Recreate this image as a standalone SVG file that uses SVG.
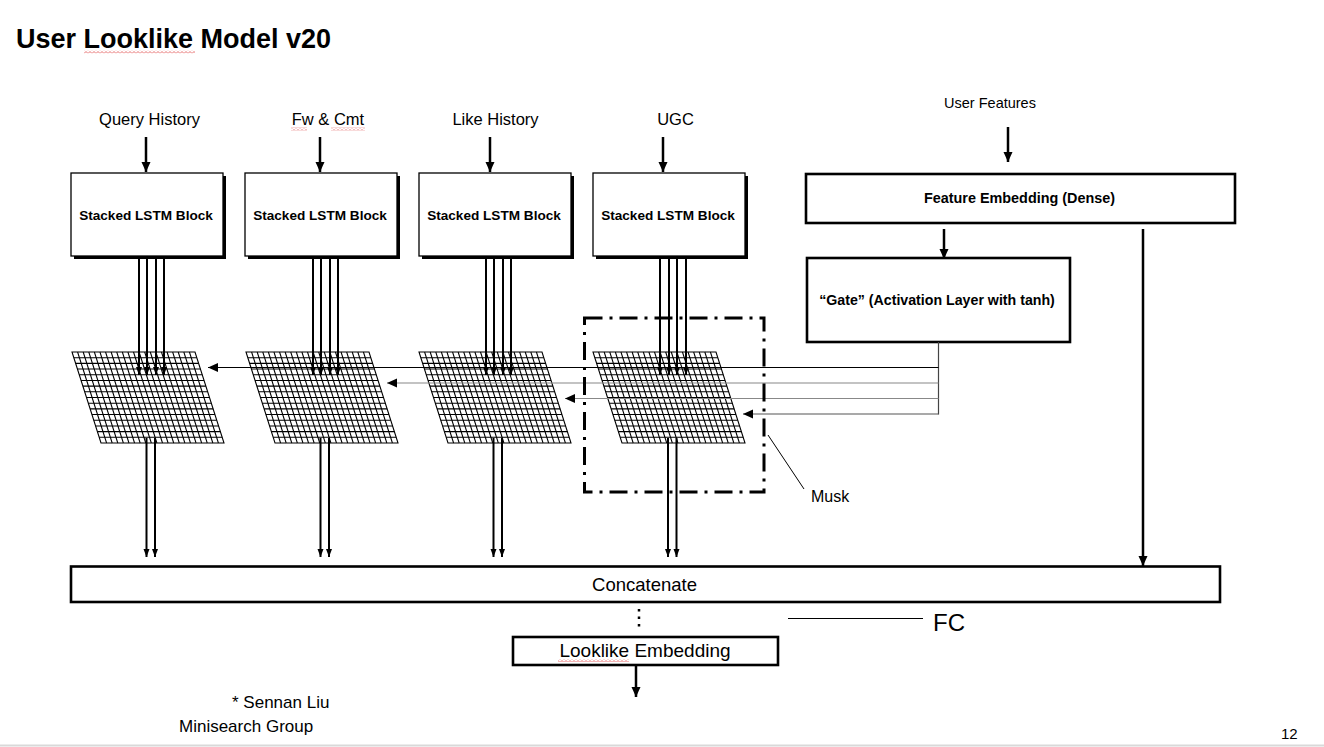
<svg xmlns="http://www.w3.org/2000/svg" width="1324" height="747" viewBox="0 0 1324 747">
<style>
text{font-family:"Liberation Sans",Arial,sans-serif;fill:#000}
.lbl{font-size:16.5px;text-anchor:middle}
.blk{font-size:13.6px;font-weight:bold;text-anchor:middle}
.box{fill:#fff;stroke:#000;stroke-width:1.3}
.tbox{fill:#fff;stroke:#000;stroke-width:2.6}
.thick{stroke:#000;stroke-width:2.5;fill:none}
.thin{stroke:#000;stroke-width:2;fill:none}
.hair{stroke:#000;stroke-width:1;fill:none}
.wave{fill:url(#wave)}
</style>
<defs>
<marker id="ah" markerUnits="userSpaceOnUse" markerWidth="10" markerHeight="10" refX="10" refY="5" orient="auto"><path d="M0,0.5 L10,5 L0,9.5 z" fill="#000"/></marker>
<marker id="as" markerUnits="userSpaceOnUse" markerWidth="8" markerHeight="7" refX="8" refY="3.5" orient="auto"><path d="M0,0.5 L8,3.5 L0,6.5 z" fill="#000"/></marker>
<pattern id="wave" patternUnits="userSpaceOnUse" width="4" height="3"><path d="M0,2.5 L2,0.5 L4,2.5" stroke="#e04848" stroke-width="0.8" fill="none"/></pattern>
<g id="grid">
<polygon points="0,0 123,0 152,91 29,91" fill="#fff" stroke="#000" stroke-width="1.1"/>
<path stroke="#000" stroke-width="1.05" fill="none" d="M1.81,5.69h123M3.63,11.38h123M5.44,17.06h123M7.25,22.75h123M9.06,28.44h123M10.88,34.13h123M12.69,39.81h123M14.5,45.5h123M16.31,51.19h123M18.13,56.88h123M19.94,62.56h123M21.75,68.25h123M23.56,73.94h123M25.38,79.63h123M27.19,85.31h123M5.59,0l29,91M11.18,0l29,91M16.77,0l29,91M22.36,0l29,91M27.95,0l29,91M33.55,0l29,91M39.14,0l29,91M44.73,0l29,91M50.32,0l29,91M55.91,0l29,91M61.5,0l29,91M67.09,0l29,91M72.68,0l29,91M78.27,0l29,91M83.86,0l29,91M89.45,0l29,91M95.05,0l29,91M100.64,0l29,91M106.23,0l29,91M111.82,0l29,91M117.41,0l29,91"/>
</g>
</defs>
<rect width="1324" height="747" fill="#fff"/>

<g id="title">
<text x="16" y="48" style="font-size:27px;font-weight:bold">User Looklike Model v20</text>
<rect class="wave" x="84" y="50.5" width="111" height="3"/>
</g>

<g id="input-labels">
<text class="lbl" x="149.5" y="125">Query History</text>
<text class="lbl" x="328" y="125">Fw &amp; Cmt</text>
<rect class="wave" x="291" y="127.5" width="16" height="3"/>
<rect class="wave" x="331" y="127.5" width="34" height="3"/>
<text class="lbl" x="495.5" y="125">Like History</text>
<text class="lbl" x="675.5" y="125">UGC</text>
<text x="990" y="108" style="font-size:14.5px;text-anchor:middle">User Features</text>
</g>

<g id="lstm1"><rect x="74" y="176" width="152" height="83" fill="#000"/><rect class="box" x="71" y="173" width="152" height="83"/><text class="blk" x="146" y="220">Stacked LSTM Block</text></g>
<g id="lstm2"><rect x="248" y="176" width="152" height="83" fill="#000"/><rect class="box" x="245" y="173" width="152" height="83"/><text class="blk" x="320" y="220">Stacked LSTM Block</text></g>
<g id="lstm3"><rect x="422" y="176" width="152" height="83" fill="#000"/><rect class="box" x="419" y="173" width="152" height="83"/><text class="blk" x="494" y="220">Stacked LSTM Block</text></g>
<g id="lstm4"><rect x="596" y="176" width="152" height="83" fill="#000"/><rect class="box" x="593" y="173" width="152" height="83"/><text class="blk" x="668" y="220">Stacked LSTM Block</text></g>

<g id="grid1"><use href="#grid" x="72" y="352"/></g>
<g id="grid2"><use href="#grid" x="246" y="352"/></g>
<g id="grid3"><use href="#grid" x="419" y="352"/></g>
<g id="grid4"><use href="#grid" x="593" y="352"/></g>

<g id="feature-embedding"><rect class="tbox" x="806" y="174" width="429" height="49"/><text x="1019.5" y="203" style="font-size:14.4px;font-weight:bold;text-anchor:middle">Feature Embedding (Dense)</text></g>
<g id="gate"><rect class="tbox" x="807" y="258" width="263" height="84"/><text x="937" y="305" style="font-size:14.2px;font-weight:bold;text-anchor:middle">“Gate” (Activation Layer with tanh)</text></g>

<g id="connectors">
<line class="thick" x1="146" y1="137" x2="146" y2="172" marker-end="url(#ah)"/>
<line class="thick" x1="320" y1="137" x2="320" y2="172" marker-end="url(#ah)"/>
<line class="thick" x1="490" y1="137" x2="490" y2="172" marker-end="url(#ah)"/>
<line class="thick" x1="663" y1="137" x2="663" y2="172" marker-end="url(#ah)"/>
<line class="thick" x1="1008" y1="127" x2="1008" y2="162" marker-end="url(#ah)"/>
<line class="thick" x1="944" y1="229" x2="944" y2="259" marker-end="url(#ah)"/>
<line class="thick" x1="1143" y1="229" x2="1143" y2="566" marker-end="url(#ah)"/>
<g>
<line class="thin" x1="139" y1="257" x2="139" y2="375" marker-end="url(#as)"/>
<line class="thin" x1="147" y1="257" x2="147" y2="375" marker-end="url(#as)"/>
<line class="thin" x1="156" y1="257" x2="156" y2="375" marker-end="url(#as)"/>
<line class="thin" x1="164" y1="257" x2="164" y2="375" marker-end="url(#as)"/>
<line class="thin" x1="313" y1="257" x2="313" y2="375" marker-end="url(#as)"/>
<line class="thin" x1="321" y1="257" x2="321" y2="375" marker-end="url(#as)"/>
<line class="thin" x1="330" y1="257" x2="330" y2="375" marker-end="url(#as)"/>
<line class="thin" x1="338" y1="257" x2="338" y2="375" marker-end="url(#as)"/>
<line class="thin" x1="486" y1="257" x2="486" y2="375" marker-end="url(#as)"/>
<line class="thin" x1="494" y1="257" x2="494" y2="375" marker-end="url(#as)"/>
<line class="thin" x1="503" y1="257" x2="503" y2="375" marker-end="url(#as)"/>
<line class="thin" x1="511" y1="257" x2="511" y2="375" marker-end="url(#as)"/>
<line class="thin" x1="660" y1="257" x2="660" y2="375" marker-end="url(#as)"/>
<line class="thin" x1="669" y1="257" x2="669" y2="375" marker-end="url(#as)"/>
<line class="thin" x1="677" y1="257" x2="677" y2="375" marker-end="url(#as)"/>
<line class="thin" x1="686" y1="257" x2="686" y2="375" marker-end="url(#as)"/>
</g>
<g>
<line class="thin" x1="146.5" y1="438" x2="146.5" y2="557" marker-end="url(#as)"/>
<line class="thin" x1="155" y1="438" x2="155" y2="557" marker-end="url(#as)"/>
<line class="thin" x1="320.5" y1="438" x2="320.5" y2="557" marker-end="url(#as)"/>
<line class="thin" x1="329" y1="438" x2="329" y2="557" marker-end="url(#as)"/>
<line class="thin" x1="493.5" y1="438" x2="493.5" y2="557" marker-end="url(#as)"/>
<line class="thin" x1="502" y1="438" x2="502" y2="557" marker-end="url(#as)"/>
<line class="thin" x1="668" y1="438" x2="668" y2="557" marker-end="url(#as)"/>
<line class="thin" x1="676.5" y1="438" x2="676.5" y2="557" marker-end="url(#as)"/>
</g>
<g fill="none" stroke-width="1.2">
<line x1="938.5" y1="342" x2="938.5" y2="414.5" stroke="#444"/>
<line x1="938.5" y1="367.5" x2="208" y2="367.5" stroke="#000" marker-end="url(#ah)"/>
<line x1="938.5" y1="383" x2="387" y2="383" stroke="#888" marker-end="url(#ah)"/>
<line x1="938.5" y1="398.5" x2="565" y2="398.5" stroke="#888" marker-end="url(#ah)"/>
<line x1="938.5" y1="414" x2="743" y2="414" stroke="#555" marker-end="url(#ah)"/>
</g>
<line class="thick" x1="636" y1="665" x2="636" y2="697" marker-end="url(#ah)"/>
<line x1="639" y1="609" x2="639" y2="629" stroke="#000" stroke-width="2.5" stroke-dasharray="2.5 5"/>
</g>

<g id="musk">
<rect x="584.5" y="318" width="179.5" height="174" fill="none" stroke="#000" stroke-width="3" stroke-dasharray="18 7 3 7"/>
<line x1="768" y1="435" x2="804" y2="489" stroke="#000" stroke-width="1"/>
<text x="811" y="502" style="font-size:16px">Musk</text>
</g>

<g id="concatenate"><rect class="tbox" x="71" y="566.5" width="1149" height="35.5" stroke-width="3"/><text x="644.5" y="590.5" style="font-size:18.5px;text-anchor:middle">Concatenate</text></g>

<g id="fc"><line x1="788" y1="618.5" x2="923" y2="618.5" stroke="#000" stroke-width="1"/><text x="933" y="631" style="font-size:24px">FC</text></g>

<g id="looklike-embedding"><rect class="tbox" x="513" y="637" width="265" height="28"/><text x="645" y="657" style="font-size:19px;text-anchor:middle">Looklike Embedding</text><rect class="wave" x="558" y="659" width="71" height="3"/></g>

<g id="credits">
<text x="232" y="708" style="font-size:17px">* Sennan Liu</text>
<text x="179" y="732" style="font-size:17px">Minisearch Group</text>
<text x="1281" y="739" style="font-size:15px">12</text>
<line x1="0" y1="745.5" x2="1324" y2="745.5" stroke="#d9d9d9" stroke-width="2"/>
</g>
</svg>
